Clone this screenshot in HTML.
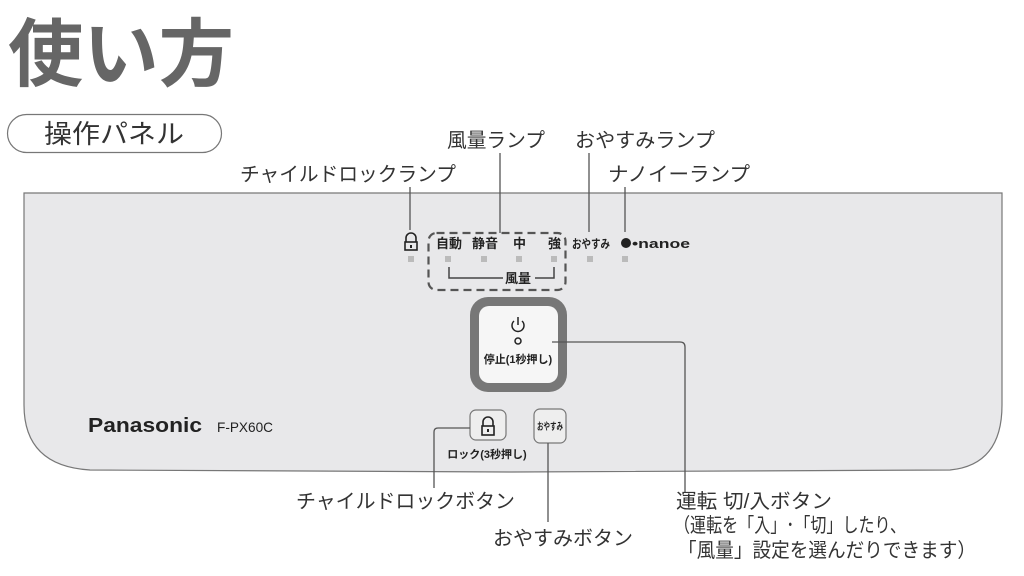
<!DOCTYPE html>
<html><head><meta charset="utf-8"><style>
html,body{margin:0;padding:0;background:#fff;}
svg{display:block;}
text{font-family:"Liberation Sans","Noto Sans CJK JP",sans-serif;}
</style></head><body>
<svg width="1024" height="576" viewBox="0 0 1024 576" xmlns="http://www.w3.org/2000/svg">
<text x="8" y="80" font-size="74" font-weight="bold" fill="#666" textLength="226" lengthAdjust="spacingAndGlyphs">使い方</text>
<rect x="7.5" y="114.5" width="214" height="38" rx="19" fill="#fff" stroke="#777" stroke-width="1.2"/>
<text x="44" y="143" font-size="26" fill="#333" textLength="140" lengthAdjust="spacingAndGlyphs">操作パネル</text>

<path d="M24,193 L1002,193 L1002,405 Q1002,465 950,470 L512,472 L90,470 Q24,466 24,405 Z" fill="#e8e8ea" stroke="#777" stroke-width="1.2"/>

<g font-size="20" fill="#333">
<text x="447" y="147" textLength="98" lengthAdjust="spacingAndGlyphs">風量ランプ</text>
<text x="575" y="147" textLength="140" lengthAdjust="spacingAndGlyphs">おやすみランプ</text>
<text x="240" y="181" textLength="216" lengthAdjust="spacingAndGlyphs">チャイルドロックランプ</text>
<text x="608" y="181" textLength="142" lengthAdjust="spacingAndGlyphs">ナノイーランプ</text>
</g>
<g stroke="#555" stroke-width="1.3" fill="none">
<line x1="500" y1="153" x2="500" y2="233"/>
<line x1="589" y1="153" x2="589" y2="232"/>
<line x1="410" y1="187" x2="410" y2="230"/>
<line x1="625" y1="187" x2="625" y2="232"/>
</g>
<!-- lock lamp icon -->
<g stroke="#222" stroke-width="1.6" fill="none">
<path d="M406,242 v-4 a5,5 0 0 1 10,0 v4"/>
<rect x="405" y="242" width="12" height="8" fill="#e8e8ea"/>
</g>
<rect x="410" y="245" width="2" height="3" fill="#222"/>
<rect x="428.5" y="233" width="137" height="57" rx="8" fill="none" stroke="#555" stroke-width="2.2" stroke-dasharray="8,5"/>
<g font-size="13" font-weight="bold" fill="#222">
<text x="436" y="248">自動</text>
<text x="472" y="248">静音</text>
<text x="513" y="248">中</text>
<text x="548" y="248">強</text>
<text x="572" y="248" font-size="12" textLength="38" lengthAdjust="spacingAndGlyphs">おやすみ</text>
<text x="632" y="248" font-size="13" textLength="58" lengthAdjust="spacingAndGlyphs">•nanoe</text>
</g>
<circle cx="626" cy="243" r="5" fill="#222"/>
<g fill="#bbb">
<rect x="408" y="256" width="6" height="6"/><rect x="445" y="256" width="6" height="6"/><rect x="481" y="256" width="6" height="6"/><rect x="516" y="256" width="6" height="6"/><rect x="551" y="256" width="6" height="6"/><rect x="587" y="256" width="6" height="6"/><rect x="622" y="256" width="6" height="6"/>
</g>
<path d="M449,267 V278 H503 M535,278 H554 V267" stroke="#444" stroke-width="1.5" fill="none"/>
<text x="505" y="283" font-size="13" font-weight="bold" fill="#222">風量</text>

<!-- power button -->
<rect x="470" y="297" width="97" height="95" rx="18" fill="#777"/>
<rect x="479" y="306" width="79" height="77" rx="10" fill="#f6f6f6"/>
<g stroke="#222" stroke-width="1.5" fill="none">
<path d="M514,321 a6,6 0 1 0 8,0"/>
<line x1="518" y1="317" x2="518" y2="325"/>
<circle cx="518" cy="341" r="3"/>
</g>
<text x="518" y="363" font-size="11" font-weight="bold" fill="#222" text-anchor="middle">停止(1秒押し)</text>
<path d="M552,342 H680 Q685,342 685,347 V492" stroke="#555" stroke-width="1.3" fill="none"/>

<!-- lock button -->
<rect x="470" y="410" width="36" height="30" rx="6" fill="#eee" stroke="#777" stroke-width="1.2"/>
<path d="M483,426 v-4 a5,5 0 0 1 10,0 v4" stroke="#222" stroke-width="1.6" fill="none"/>
<rect x="482" y="426" width="12" height="9" fill="#eee" stroke="#222" stroke-width="1.6"/>
<rect x="487" y="429" width="2" height="3" fill="#222"/>
<text x="487" y="458" font-size="11" font-weight="bold" fill="#222" text-anchor="middle">ロック(3秒押し)</text>
<rect x="534" y="409" width="32" height="34" rx="6" fill="#eee" stroke="#777" stroke-width="1.2"/>
<text x="550" y="430" font-size="10" font-weight="bold" fill="#222" text-anchor="middle" textLength="26" lengthAdjust="spacingAndGlyphs">おやすみ</text>
<path d="M470,428 H438 Q434,428 434,432 V488" stroke="#555" stroke-width="1.3" fill="none"/>
<line x1="548" y1="443" x2="548" y2="522" stroke="#555" stroke-width="1.3"/>

<text x="88" y="432" font-size="20" font-weight="bold" fill="#222" textLength="114" lengthAdjust="spacingAndGlyphs">Panasonic</text>
<text x="217" y="432" font-size="14" fill="#222" textLength="56" lengthAdjust="spacingAndGlyphs">F-PX60C</text>

<g font-size="20" fill="#333">
<text x="296" y="508" textLength="219" lengthAdjust="spacingAndGlyphs">チャイルドロックボタン</text>
<text x="493" y="545" textLength="140" lengthAdjust="spacingAndGlyphs">おやすみボタン</text>
<text x="676" y="508" textLength="156" lengthAdjust="spacingAndGlyphs">運転 切/入ボタン</text>
<text x="674" y="532" textLength="232" lengthAdjust="spacingAndGlyphs">（運転を「入」･「切」したり、</text>
<text x="678" y="557" textLength="298" lengthAdjust="spacingAndGlyphs">「風量」設定を選んだりできます）</text>
</g>
</svg>
</body></html>
